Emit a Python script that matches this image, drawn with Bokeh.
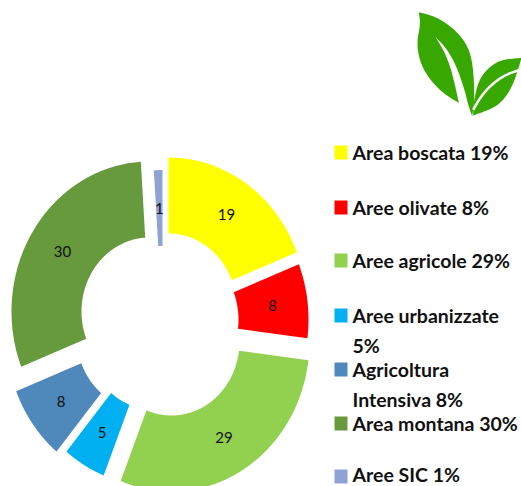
import numpy as np
from bokeh.plotting import figure
from bokeh.models import Range1d
from bokeh.core.properties import value
from bokeh.embed import file_html
from bokeh.resources import INLINE

labels = ["Area boscata 19%", "Aree olivate 8%", "Aree agricole 29%", "Aree urbanizzate\n5%",
          "Agricoltura\nIntensiva 8%", "Area montana 30%", "Aree SIC 1%"]
values = [19, 8, 29, 5, 8, 30, 1]
colors = ["#FFFF00", "#FF0000", "#92D050", "#00B0F0", "#4F88BB", "#669A3D", "#8FA2D4"]

# layout
center = (160, 322)
explode_x = [8, 10, 11, -6, -16, -11, 2]
explode_y = [-15, -3, 19, 13.5, 13.5, -11, -2.5]
outer_rx, outer_ry = 138, 150
inner_rx, inner_ry = 68, 74
legend_y = [152, 207, 260, 315, 369, 423, 476]
text_y = [152, 207, 260, 315, 369, 423, 474]
line_gap = 29.5

p = figure(width=521, height=486, output_backend="svg", toolbar_location=None,
           x_range=Range1d(0, 521), y_range=Range1d(486, 0),
           min_border=0, outline_line_color=None, background_fill_color="white")
p.axis.visible = False
p.grid.visible = False
p.styles = {"position": "absolute", "left": "0px", "top": "0px"}

total = sum(values)
cum = 0.0
for val, col, ex, ey in zip(values, colors, explode_x, explode_y):
    t0 = 2 * np.pi * cum / total
    t1 = 2 * np.pi * (cum + val) / total
    cum += val
    t = np.linspace(t0, t1, max(4, int(val * 4)))
    cx, cy = center[0] + ex, center[1] + ey
    xs = np.r_[cx + outer_rx * np.sin(t), cx + inner_rx * np.sin(t[::-1])]
    ys = np.r_[cy - outer_ry * np.cos(t), cy - inner_ry * np.cos(t[::-1])]
    p.patch(xs, ys, fill_color=col, line_color=None)
    tm = (t0 + t1) / 2
    p.text([cx + (outer_rx + inner_rx) / 2 * np.sin(tm)], [cy - (outer_ry + inner_ry) / 2 * np.cos(tm)],
           text=[str(val)], text_font=value("Lato"), text_font_size="15px",
           text_color="#111111", text_align="center", text_baseline="middle")

# legend
for lab, col, ly, ty in zip(labels, colors, legend_y, text_y):
    p.rect([340.5], [ly], width=13, height=14, fill_color=col, line_color=None)
    for i, part in enumerate(lab.split("\n")):
        p.text([352], [ty + i * line_gap], text=[part], text_font=value("Lato"),
               text_font_size="19.5px", text_font_style="bold", text_color="#111111",
               text_align="left", text_baseline="middle")


# leaf logo
def smooth(pts, n=3):
    pts = np.array(pts, float)
    for _ in range(n):
        q = 0.75 * pts[:-1] + 0.25 * pts[1:]
        r = 0.25 * pts[:-1] + 0.75 * pts[1:]
        mid = np.empty((2 * len(q), 2))
        mid[0::2], mid[1::2] = q, r
        pts = np.vstack([pts[0], mid, pts[-1]])
    return pts


def leaf(*segments):
    pts = np.vstack([smooth(s) for s in segments])
    return 400 + pts[:, 0] / 3, pts[:, 1] / 3


big_top = [(55, 35), (110, 50), (160, 85), (195, 125), (213, 170), (220, 230), (222, 300), (215, 347)]
big_vein_r = [(215, 347), (205, 320), (190, 260), (165, 190), (135, 140), (105, 110)]
big_vein_l = [(105, 110), (130, 150), (150, 200), (165, 260), (175, 307)]
big_left = [(175, 307), (130, 280), (90, 240), (60, 190), (48, 130), (60, 70), (55, 35)]
small_top = [(363, 172), (300, 178), (260, 205), (235, 240), (222, 290), (218, 330)]
small_bot = [(218, 345), (260, 330), (300, 310), (335, 260), (355, 200), (363, 172)]
small_vein = [(360, 207), (310, 225), (270, 255), (240, 290), (218, 328)]

p.patch(*leaf(big_top, big_vein_r, big_vein_l, big_left), fill_color="#38A800", line_color=None)
p.patch(*leaf(small_top, small_bot), fill_color="#38A800", line_color=None)
p.line(*leaf(small_vein), line_color="white", line_width=2.5)

open("out.html", "w").write(file_html(p, INLINE))
